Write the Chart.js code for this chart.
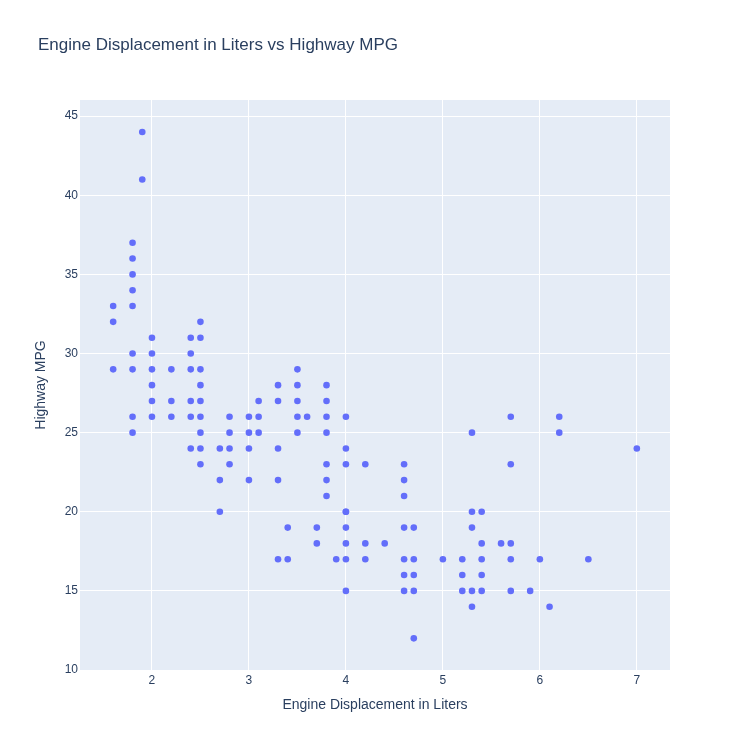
<!DOCTYPE html>
<html>
<head>
<meta charset="utf-8">
<title>Engine Displacement in Liters vs Highway MPG</title>
<script src="https://cdn.jsdelivr.net/npm/chart.js@4.4.1/dist/chart.umd.min.js"></script>
<style>
  html, body { margin: 0; padding: 0; background: #fff; }
  #wrap { position: relative; width: 750px; height: 750px; }
</style>
</head>
<body>
<div id="wrap"><canvas id="chart" width="750" height="750"></canvas></div>
<script>
// values (overlapping points collapse to one mark)
const displ = [
  1.6, 1.6, 1.6,
  1.8, 1.8, 1.8, 1.8, 1.8, 1.8, 1.8, 1.8, 1.8,
  1.9, 1.9,
  2.0, 2.0, 2.0, 2.0, 2.0, 2.0,
  2.2, 2.2, 2.2,
  2.4, 2.4, 2.4, 2.4, 2.4, 2.4,
  2.5, 2.5, 2.5, 2.5, 2.5, 2.5, 2.5, 2.5, 2.5,
  2.7, 2.7, 2.7,
  2.8, 2.8, 2.8, 2.8,
  3.0, 3.0, 3.0, 3.0,
  3.1, 3.1, 3.1,
  3.3, 3.3, 3.3, 3.3, 3.3,
  3.4, 3.4,
  3.5, 3.5, 3.5, 3.5, 3.5,
  3.6,
  3.7, 3.7,
  3.8, 3.8, 3.8, 3.8, 3.8, 3.8, 3.8,
  3.9,
  4.0, 4.0, 4.0, 4.0, 4.0, 4.0, 4.0, 4.0, 4.0,
  4.2, 4.2, 4.2,
  4.4,
  4.6, 4.6, 4.6, 4.6, 4.6, 4.6, 4.6,
  4.7, 4.7, 4.7, 4.7, 4.7,
  5.0,
  5.2, 5.2, 5.2,
  5.3, 5.3, 5.3, 5.3, 5.3,
  5.4, 5.4, 5.4, 5.4, 5.4,
  5.6,
  5.7, 5.7, 5.7, 5.7, 5.7,
  5.9,
  6.0,
  6.1,
  6.2, 6.2,
  6.5,
  7.0
];
const hwy = [
  33, 32, 29,
  37, 36, 35, 34, 33, 30, 29, 26, 25,
  44, 41,
  31, 30, 29, 28, 27, 26,
  29, 27, 26,
  31, 30, 29, 27, 26, 24,
  32, 31, 29, 28, 27, 26, 25, 24, 23,
  24, 22, 20,
  26, 25, 24, 23,
  26, 25, 24, 22,
  27, 26, 25,
  28, 27, 24, 22, 17,
  19, 17,
  29, 28, 27, 26, 25,
  26,
  19, 18,
  28, 27, 26, 25, 23, 22, 21,
  17,
  26, 24, 23, 20, 19, 18, 17, 15, 20,
  23, 18, 17,
  18,
  23, 22, 21, 19, 17, 16, 15,
  19, 17, 16, 15, 12,
  17,
  17, 16, 15,
  25, 20, 19, 15, 14,
  20, 18, 17, 16, 15,
  18,
  26, 23, 18, 17, 15,
  15,
  17,
  14,
  26, 25,
  17,
  24
];
const xTicks = [2, 3, 4, 5, 6, 7];
const yTicks = [10, 15, 20, 25, 30, 35, 40, 45];

const titleText = 'Engine Displacement in Liters vs Highway MPG';
const xTitle = 'Engine Displacement in Liters';
const yTitle = 'Highway MPG';

const FONT = '"Liberation Sans", Arial, sans-serif';
const INK = '#2a3f5f';

const points = displ.map((d, i) => ({ x: d, y: hwy[i] }));

// plot background + title, plotly style
const plotBg = {
  id: 'plotBg',
  beforeDraw(chart){
    const a = chart.chartArea, ctx = chart.ctx;
    ctx.save();
    ctx.fillStyle = '#E5ECF6';
    ctx.fillRect(a.left, a.top, a.right - a.left, a.bottom - a.top);
    ctx.restore();
  },
  afterDraw(chart){
    const ctx = chart.ctx;
    ctx.save();
    ctx.fillStyle = INK;
    ctx.font = '17px ' + FONT;
    ctx.textAlign = 'left';
    ctx.textBaseline = 'middle';
    ctx.fillText(titleText, 38, 45);
    ctx.restore();
  }
};

new Chart(document.getElementById('chart').getContext('2d'), {
  type: 'scatter',
  data: {
    datasets: [{
      data: points,
      backgroundColor: '#636EFA',
      borderWidth: 0,
      pointRadius: 3.3,
      pointHoverRadius: 4
    }]
  },
  options: {
    responsive: false,
    animation: false,
    devicePixelRatio: 1,
    layout: { padding: { left: 32.6, right: 80, top: 100, bottom: 36.6 } },
    plugins: { legend: { display: false }, tooltip: { enabled: true } },
    scales: {
      x: {
        type: 'linear',
        min: 1.258, max: 7.342,
        afterBuildTicks(s){ s.ticks = xTicks.map(v => ({ value: v })); },
        afterFit(s){ s.height = 43.4; },
        grid: { color: '#ffffff', lineWidth: 1, drawTicks: false },
        border: { display: false },
        ticks: { color: INK, font: { family: FONT, size: 12 }, padding: 3 },
        title: { display: true, text: xTitle, color: INK, font: { family: FONT, size: 14 }, padding: 0 }
      },
      y: {
        type: 'linear',
        min: 10, max: 46.02,
        afterBuildTicks(s){ s.ticks = yTicks.map(v => ({ value: v })); },
        afterFit(s){ s.width = 47.4; },
        grid: {
          color: c => (c.tick && c.tick.value === 10) ? 'rgba(0,0,0,0)' : '#ffffff',
          lineWidth: 1, drawTicks: false
        },
        border: { display: false },
        ticks: { color: INK, font: { family: FONT, size: 12 }, padding: 2 },
        title: { display: true, text: yTitle, color: INK, font: { family: FONT, size: 14 }, padding: 0 }
      }
    }
  },
  plugins: [plotBg]
});
</script>
</body>
</html>
